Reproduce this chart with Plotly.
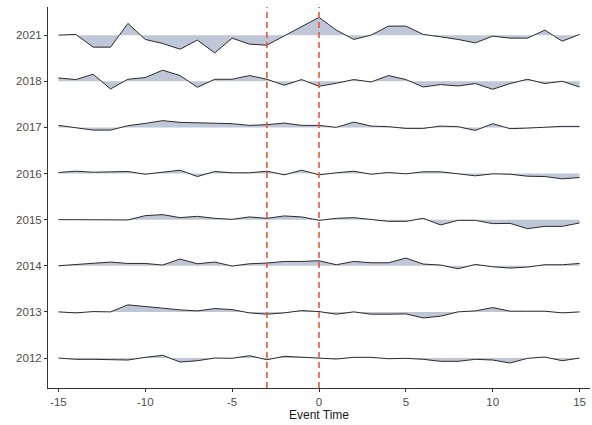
import plotly.graph_objects as go

event_time = list(range(-15, 16))
years = ["2012", "2013", "2014", "2015", "2016", "2017", "2018", "2021"]
x_ticks = [-15, -10, -5, 0, 5, 10, 15]
x_tick_labels = ["-15", "-10", "-5", "0", "5", "10", "15"]

# deviations from each year's baseline
v2021 = [0, 0.7, -12, -12, 11.7, -4.3, -8.3, -14, -5, -17.7, -3, -9, -10, -0.7, 8.7, 17.7,
         5, -4.3, 0, 9, 9, 0.7, -1.7, -4.3, -7.7, -1, -3, -3, 5, -6, 0.7]
v2018 = [3.3, 1.7, 7, -7.7, 2, 3.7, 11, 5.7, -6, 2, 2, 5.7, 2, -4, 1.7, -5,
         -2, 1.7, -0.7, 5.7, 1.7, -5.7, -3.3, -4.7, -2.3, -8, -2.3, 2, -2.3, 0, -5.7]
v2017 = [2, 0, -2.7, -2.7, 1.7, 4, 6.7, 5, 4.7, 3.7, 3.7, 2, 2.7, 4.3, 2, 2,
         0, 5.3, 1.3, 0.7, -1, -1, 1.3, 0.7, -3, 3.7, -1.3, -0.7, 0.3, 1, 1]
v2016 = [1, 2.3, 1.3, 2, 2, -0.7, 1.3, 3.3, -3, 2, 0.7, 0.7, 2.3, -1.3, 3.3, -1.3,
         0.7, 2.3, -0.7, 1, -0.3, 1.7, 1.7, -0.3, -2.3, -0.3, -0.7, -2.7, -3, -5.3, -4]
v2015 = [0, 0, -0.7, -0.7, -0.3, 4, 5, 2, 3.3, 1.3, 0.3, 2.7, 1.3, 3.7, 2.7, -0.7,
         1.3, 2, 0.3, -1.7, -1.7, 1.3, -5.3, -0.7, -0.7, -4, -3.7, -9, -6.7, -6.7, -3.3]
v2014 = [0, 1, 2.3, 3.7, 2.3, 2.3, 0.7, 6.7, 2, 3.7, -0.3, 2, 2.7, 4.3, 4.3, 5,
         1, 4.3, 3, 3, 7.7, 1.7, 0.7, -3, 1.3, -1, -2.3, -1.3, 1, 1, 2.3]
v2013 = [0, -1, 0.3, 0, 7, 5.7, 3.7, 2, 1, 3.3, 2.3, -1, -2.3, -1, 1.3, 0.3,
         -2.3, 0, -2.3, -2.3, -2, -6, -4.3, 0, 1, 4.3, 0.7, 0.7, 0.7, -1, 0]
v2012 = [0, -1.3, -1.3, -2, -2, 0.7, 2.7, -4, -2.7, 0, -0.3, 2.3, -1.7, 1.7, 1, 0,
         -1, 0.7, 0.7, -0.7, -0.3, -1.3, -3.3, -3.3, -1.3, -2, -5, -0.3, 1, -2.7, 0]

series = [v2012, v2013, v2014, v2015, v2016, v2017, v2018, v2021]
scale = 1 / 46.0
vlines = [-3, 0]

fig = go.Figure()
for i, vals in enumerate(series):
    fig.add_trace(go.Scatter(x=event_time, y=[i] * len(event_time), mode="lines",
                             line=dict(width=0, color="rgba(0,0,0,0)"),
                             hoverinfo="skip", showlegend=False))
    fig.add_trace(go.Scatter(x=event_time, y=[i + v * scale for v in vals], mode="lines",
                             line=dict(width=1, color="#2b2b2b"),
                             fill="tonexty", fillcolor="#bec6d7",
                             showlegend=False, name=years[i]))

for xv in vlines:
    fig.add_shape(type="line", x0=xv, x1=xv, y0=0, y1=1, xref="x", yref="paper",
                  line=dict(color="#e9573f", width=1.6, dash="6px,4px"), layer="above")

fig.update_layout(
    width=592, height=425,
    margin=dict(l=48, r=2, t=7, b=37),
    plot_bgcolor="white", paper_bgcolor="white",
    font=dict(family="Liberation Sans, Arial, sans-serif", size=11, color="#4d4d4d"),
    xaxis=dict(range=[-15.6, 15.6], tickvals=x_ticks, ticktext=x_tick_labels,
               showline=True, linecolor="#333333", linewidth=1, ticks="outside",
               ticklen=3, tickcolor="#333333", showgrid=False, zeroline=False,
               title=dict(text="Event Time", font=dict(size=12, color="#1a1a1a"), standoff=2),
               tickfont=dict(size=11.5, color="#4d4d4d")),
    yaxis=dict(range=[-0.65, 7.61], tickvals=list(range(len(years))), ticktext=years,
               showline=True, linecolor="#333333", linewidth=1, ticks="outside",
               ticklen=3, tickcolor="#333333", showgrid=False, zeroline=False,
               tickfont=dict(size=11.5, color="#4d4d4d")),
)

fig.write_html("out.html")
